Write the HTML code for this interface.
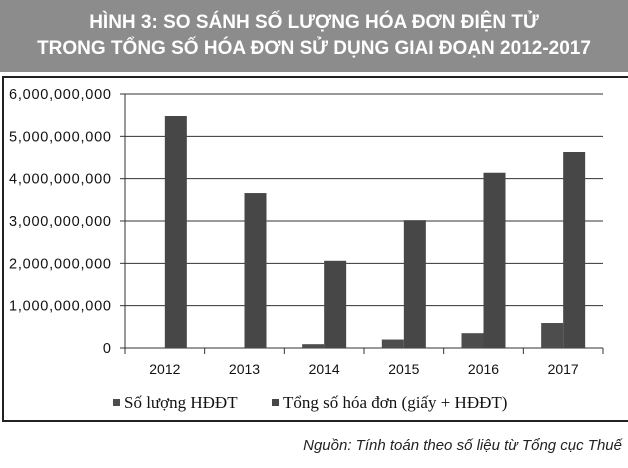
<!DOCTYPE html>
<html><head><meta charset="utf-8"><style>
body{margin:0;width:628px;height:468px;background:#fff;overflow:hidden;font-family:"Liberation Sans",sans-serif}
#hdr{position:absolute;left:0;top:0;width:628px;height:72px;background:#8c8c8c;color:#fff;font-weight:bold;font-size:19px;text-align:center;line-height:26px;padding-top:10px;box-sizing:border-box;font-family:"Liberation Sans Narrow","Liberation Sans",sans-serif}
#box{position:absolute;left:2px;top:76px;width:630px;height:346px;border:2px solid #222;box-sizing:border-box}
#src{position:absolute;right:6px;top:437px;font-style:italic;font-size:15px;color:#222;font-family:"Liberation Sans Narrow","Liberation Sans",sans-serif}
</style></head><body>
<div id="hdr">HÌNH 3: SO SÁNH SỐ LƯỢNG HÓA ĐƠN ĐIỆN TỬ<br>TRONG TỔNG SỐ HÓA ĐƠN SỬ DỤNG GIAI ĐOẠN 2012-2017</div>
<div id="box"></div>
<svg id="c" width="628" height="468" style="position:absolute;left:0;top:0"></svg>
<div id="src">Nguồn: Tính toán theo số liệu từ Tổng cục Thuế</div>
<script>
const categories=["2012","2013","2014","2015","2016","2017"];
const hddt=[0,0,0.09,0.2,0.35,0.59];
const total=[5.48,3.66,2.06,3.02,4.14,4.63];
const yTicks=[0,1,2,3,4,5,6];
const yTickLabels=["0","1,000,000,000","2,000,000,000","3,000,000,000","4,000,000,000","5,000,000,000","6,000,000,000"];
const svg=document.getElementById('c');const NS='http://www.w3.org/2000/svg';
const x0=125,x1=603,y0=348,yTop=94;
const y=v=>y0-(v/6)*(y0-yTop);
const cw=(x1-x0)/categories.length;
const cx=i=>x0+cw*(i+0.5);
function mk(t,a){const e=document.createElementNS(NS,t);for(const k in a)e.setAttribute(k,a[k]);svg.appendChild(e);return e;}
yTicks.forEach((v,i)=>{
 const g=mk('line',{x1:x0,x2:x1,y1:y(v),y2:y(v),stroke:'#333','stroke-width':1});
 
 
 const tk=mk('line',{x1:x0-5,x2:x0,y1:y(v),y2:y(v),stroke:'#333'});
 
 
 const t=mk('text',{x:x0-14,y:y(v)+5,'text-anchor':'end','font-size':14.5,fill:'#111',textLength:v===0?null:102});
 if(v===0)t.removeAttribute('textLength');
 t.textContent=yTickLabels[i];
 
 
});
const ax=mk('line',{x1:x0,x2:x0,y1:yTop,y2:y0,stroke:'#333'});


for(let i=0;i<=categories.length;i++){
 const t=mk('line',{x1:x0+cw*i,x2:x0+cw*i,y1:y0,y2:y0+6,stroke:'#333'});
 
 
}
const bw=22;
categories.forEach((c,i)=>{
 if(hddt[i]>0){const b=mk('rect',{x:cx(i)-bw,y:y(hddt[i]),width:bw,height:y0-y(hddt[i]),fill:'#4d4d4d'});
 
 }
 const b2=mk('rect',{x:cx(i),y:y(total[i]),width:bw,height:y0-y(total[i]),fill:'#474747'});
 
 
 const t=mk('text',{x:cx(i),y:374,'text-anchor':'middle','font-size':14,fill:'#111'});
 t.textContent=c;
 
 
});
const l1=mk('rect',{x:113,y:399,width:7,height:7,fill:'#4d4d4d'});


const lt1=mk('text',{x:124,y:408,'font-size':17,fill:'#111','font-family':'Liberation Serif,serif'});
lt1.textContent='Số lượng HĐĐT';


const l2=mk('rect',{x:272,y:399,width:7,height:7,fill:'#474747'});


const lt2=mk('text',{x:283,y:408,'font-size':17,fill:'#111','font-family':'Liberation Serif,serif'});
lt2.textContent='Tổng số hóa đơn (giấy + HĐĐT)';


</script>
</body></html>
